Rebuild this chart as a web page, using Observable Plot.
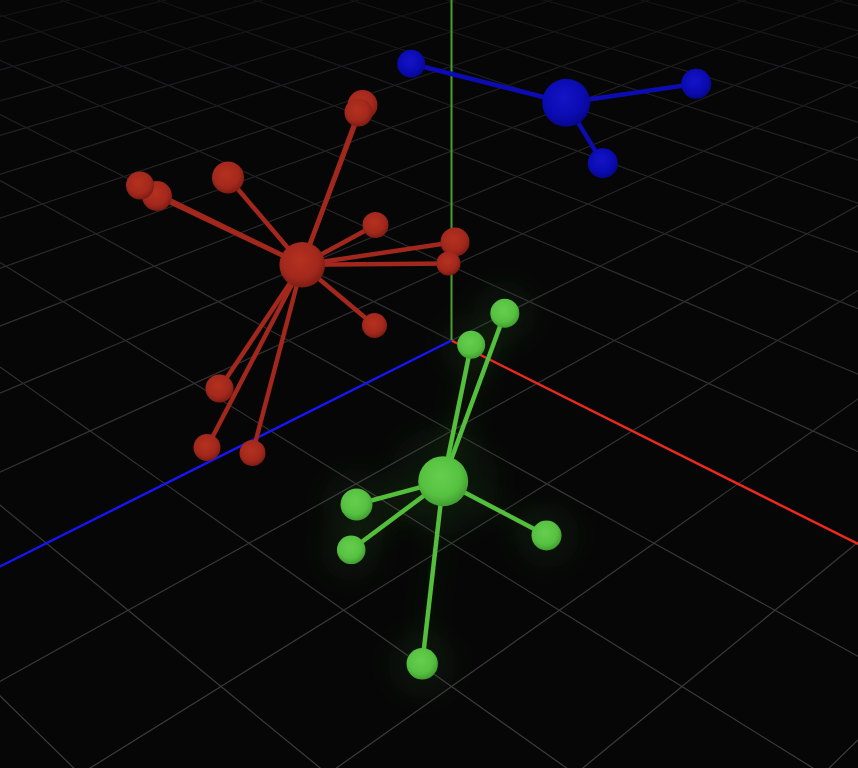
<!DOCTYPE html>
<html>
<head>
<meta charset="utf-8">
<script src="https://cdn.jsdelivr.net/npm/d3@7"></script>
<script src="https://cdn.jsdelivr.net/npm/@observablehq/plot@0.6"></script>
<style>
  html, body { margin: 0; padding: 0; background: #060606; overflow: hidden; }
  #chart { width: 858px; height: 768px; overflow: hidden; }
  #chart svg { display: block; overflow: hidden; }
</style>
</head>
<body>
<div id="chart"></div>
<script>
// ---------------- data ----------------
// nodes (screen position, radius in px)
const nodeGroup = ["red","red","red","red","red","red","red","red","red","red","red","red","red",
                   "blue","blue","blue","blue",
                   "green","green","green","green","green","green","green"];
const nodeX = [301.7, 362, 358, 139.5, 156.5, 227.5, 375, 454.5, 448, 374, 219, 206.5, 252,
               565.7, 410.7, 695.7, 602.3,
               442.7, 504.3, 470.7, 356, 350.7, 546, 421.7];
const nodeY = [264.3, 104.5, 112, 185, 195.5, 177, 224.5, 241.5, 263, 325, 388, 447, 452.5,
               102.3, 63.3, 83.3, 162.7,
               480.7, 312.7, 344.3, 504, 549.3, 535, 663.3];
const nodeR = [22.8, 15, 14, 14, 15, 16, 13, 14.5, 12, 12.5, 14, 13.5, 13,
               24, 14, 15, 15,
               25, 14.5, 14, 16, 14.3, 15, 15.7];
// links (node indices)
const linkSource = [0,0,0,0,0,0,0,0,0,0,0,0, 13,13,13, 17,17,17,17,17,17];
const linkTarget = [1,2,3,4,5,6,7,8,9,10,11,12, 14,15,16, 18,19,20,21,22,23];

// ground grid line indices (cells of the floor grid)
const gridLines = [-16,-15,-14,-13,-12,-11,-10,-9,-8,-7,-6,-5,-4,-3,-2,-1,0,1,2,3,4,5,6,7];
// axes helper: name, ground direction, colour
const axisName = ["x", "z"];
const axisDir = [[8, 0], [0, 8]];
const axisColor = ["#f0291f", "#1515f5"];

// ---------------- styles / camera ----------------
const W = 858, H = 768;
const GLOW = "#3c9a2d";
const groupColor = {red: "#a2271c", blue: "#0c0cb2", green: "#53bf3d"};
// floor plane -> screen homography (fitted to the reference view)
const cam = {cx: 451, cy: 340, A: 81.5, B: 24.2, c: -0.0488};
function project(X, Z) {
  const u = X + Z, w = X - Z, d = 1 + cam.c * u;
  return {x: cam.cx + cam.A * w / d, y: (cam.cy + cam.B * u) / d, d};
}
const fog = d3.interpolateRgb("#3d3d3d", "#141418");
function fogColor(d) {
  const t = Math.max(0, Math.min(1, (d - 0.66) / (1.70 - 0.66)));
  return fog(t);
}

// build grid segments
const gridSegs = [];
for (const k of gridLines) {
  for (let i = 0; i < gridLines.length - 1; i++) {
    const a = gridLines[i], b = gridLines[i + 1];
    for (const [p, q] of [[[k, a], [k, b]], [[a, k], [b, k]]]) {
      const P = project(p[0], p[1]), Q = project(q[0], q[1]);
      gridSegs.push({x1: P.x, y1: P.y, x2: Q.x, y2: Q.y, color: fogColor((P.d + Q.d) / 2)});
    }
  }
}
// axes
const o = project(0, 0);
const axisSegs = axisName.map((n, i) => {
  const e = project(axisDir[i][0], axisDir[i][1]);
  return {name: n, x1: o.x, y1: o.y, x2: e.x, y2: e.y, color: axisColor[i]};
});
const yAxis = [{name: "y", x: o.x, y1: o.y, y2: 0}];

// nodes / links tables
const nodes = nodeX.map((x, i) => ({x, y: nodeY[i], r: nodeR[i], group: nodeGroup[i],
  fill: `url(#sphere-${nodeGroup[i]})`}));
const drawNodes = nodes.slice().sort((a, b) => a.r - b.r);
const links = linkSource.map((s, i) => {
  const a = nodes[s], b = nodes[linkTarget[i]];
  return {x1: a.x, y1: a.y, x2: b.x, y2: b.y, color: groupColor[a.group]};
});
const greenNodes = nodes.filter(d => d.group === "green");
const greenLinks = links.filter(d => d.color === groupColor.green);

const plot = Plot.plot({
  width: W, height: H, margin: 0,
  x: {domain: [0, W], range: [0, W], axis: null},
  y: {domain: [0, H], range: [0, H], axis: null},
  r: {type: "identity"},
  color: {type: "identity"},
  style: {background: "#060606", overflow: "hidden"},
  marks: [
    Plot.link(gridSegs, {x1: "x1", y1: "y1", x2: "x2", y2: "y2", stroke: "color", strokeWidth: 1.2}),
    Plot.link(greenLinks, {x1: "x1", y1: "y1", x2: "x2", y2: "y2", stroke: GLOW,
      strokeWidth: 18, strokeOpacity: 0.06}),
    Plot.dot(greenNodes, {x: "x", y: "y", r: d => d.r * 2.2, fill: GLOW, fillOpacity: 0.08}),
    Plot.link(axisSegs, {x1: "x1", y1: "y1", x2: "x2", y2: "y2", stroke: "color", strokeWidth: 2.4}),
    Plot.ruleX(yAxis, {x: "x", y1: "y1", y2: "y2", stroke: "#4c9c2e", strokeWidth: 2}),
    Plot.link(links, {x1: "x1", y1: "y1", x2: "x2", y2: "y2", stroke: "color", strokeWidth: 4.5}),
    Plot.dot(drawNodes, {x: "x", y: "y", r: "r", fill: "fill", stroke: null})
  ]
});

// sphere shading gradients and glow filter
const svg = d3.select(plot);
const defs = svg.insert("defs", ":first-child");
const grads = {
  red:   ["#b5311f", "#a3281c", "#7a1b12"],
  blue:  ["#1414c8", "#0b0bb2", "#060688"],
  green: ["#66ce4e", "#56c140", "#3f9a2f"]
};
for (const [k, c] of Object.entries(grads)) {
  const g = defs.append("radialGradient").attr("id", `sphere-${k}`)
    .attr("cx", "0.45").attr("cy", "0.4").attr("r", "0.62");
  g.append("stop").attr("offset", "0%").attr("stop-color", c[0]);
  g.append("stop").attr("offset", "65%").attr("stop-color", c[1]);
  g.append("stop").attr("offset", "100%").attr("stop-color", c[2]);
}
const f = defs.append("filter").attr("id", "glow")
  .attr("filterUnits", "userSpaceOnUse")
  .attr("x", 0).attr("y", 0).attr("width", W).attr("height", H);
f.append("feGaussianBlur").attr("stdDeviation", 12);
svg.selectAll("g").each(function() {
  const fl = (this.getAttribute("fill") || "").toLowerCase();
  const st = (this.getAttribute("stroke") || "").toLowerCase();
  if (fl === GLOW || st === GLOW) this.setAttribute("filter", "url(#glow)");
});

document.getElementById("chart").appendChild(plot);
</script>
</body>
</html>
